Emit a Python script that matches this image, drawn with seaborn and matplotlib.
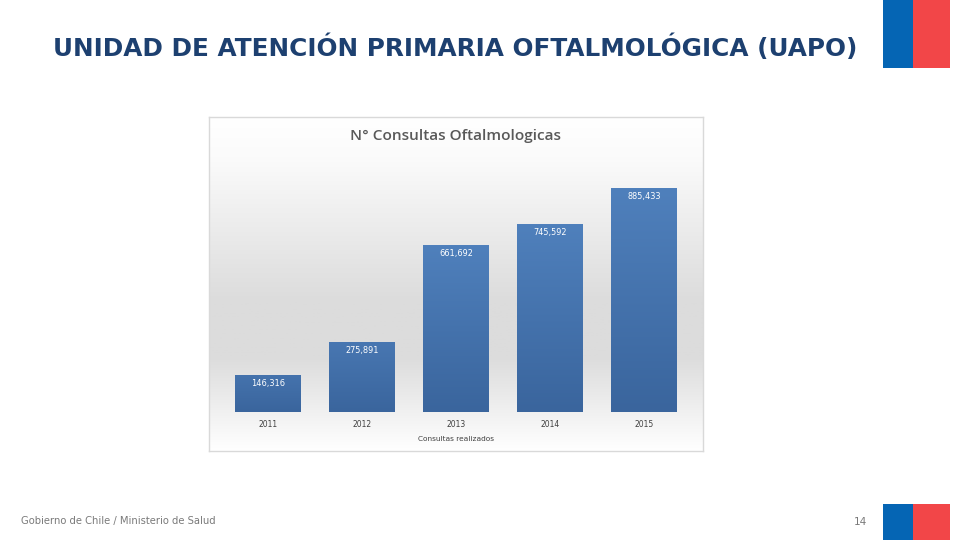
import numpy as np
import pandas as pd
import seaborn as sns
import matplotlib
matplotlib.use('Agg')
import matplotlib.pyplot as plt
from matplotlib.colors import LinearSegmentedColormap
from matplotlib.patches import Rectangle

# data
years = ['2011', '2012', '2013', '2014', '2015']
consultas = [146316, 275891, 661692, 745592, 885433]

slide_title = 'UNIDAD DE ATENCIÓN PRIMARIA OFTALMOLÓGICA (UAPO)'
chart_title = 'N° Consultas Oftalmologicas'
legend_text = 'Consultas realizados'
footer_text = 'Gobierno de Chile / Ministerio de Salud'
page_number = '14'

W, H = 960, 540


def px_rect(x0, y0, x1, y1):
    # pixel box (y from the top) -> figure fraction rect
    return [x0 / W, 1 - y1 / H, (x1 - x0) / W, (y1 - y0) / H]


def px_text(x, y, s, **kw):
    fig.text(x / W, 1 - y / H, s, va='center', **kw)


sns.set_theme(style='white')
plt.rcParams['font.family'] = ['DejaVu Sans']
fig = plt.figure(figsize=(9.6, 5.4), dpi=100, facecolor='white')

# flag blocks, top right and bottom right
for y0, y1 in [(0, 68), (504, 540)]:
    fig.add_artist(Rectangle((883 / W, 1 - y1 / H), 30 / W, (y1 - y0) / H,
                             transform=fig.transFigure, color='#0565b4', lw=0))
    fig.add_artist(Rectangle((913 / W, 1 - y1 / H), 37 / W, (y1 - y0) / H,
                             transform=fig.transFigure, color='#f24648', lw=0))

# chart panel with the grey gradient
panel = fig.add_axes(px_rect(209, 117, 703, 451))
panel_cmap = LinearSegmentedColormap.from_list('panel', [
    (0.0, '#ffffff'), (0.12, '#fbfbfb'), (0.55, '#dcdcdc'),
    (0.72, '#dcdcdc'), (0.88, '#f0f0f0'), (1.0, '#ffffff')])
panel.imshow(np.linspace(0, 1, 256).reshape(-1, 1), cmap=panel_cmap,
             aspect='auto', vmin=0, vmax=1)
panel.set_xticks([])
panel.set_yticks([])
for spine in panel.spines.values():
    spine.set_color('#d9d9d9')
    spine.set_linewidth(1)

# bars, transparent background so the panel shows through
ax = fig.add_axes(px_rect(221, 150, 691, 412))
ax.patch.set_alpha(0)
df = pd.DataFrame({'anio': years, 'consultas': consultas})
sns.barplot(data=df, x='anio', y='consultas', color='#4f81bd', width=0.7,
            saturation=1, linewidth=0, ax=ax)

# vertical gradient on every bar
bar_cmap = LinearSegmentedColormap.from_list('bar', ['#3a659d', '#4f80bc'])
for bar in ax.patches:
    x0, y0, w, h = bar.get_x(), bar.get_y(), bar.get_width(), bar.get_height()
    # short bars stay darker at the top
    top = min(1, 0.35 + h / 885433)
    grad = np.linspace(top, 0, 128).reshape(-1, 1)
    ax.imshow(grad, cmap=bar_cmap, vmin=0, vmax=1, aspect='auto',
              extent=(x0, x0 + w, y0, y0 + h), zorder=2)
ax.set_xlim(-0.5, 4.5)
ax.set_ylim(0, 1040000)

ax.bar_label(ax.containers[0], labels=[f'{v:,}' for v in consultas],
             label_type='edge', padding=-9, color='white', fontsize=5.9,
             zorder=3)

ax.set_xlabel('')
ax.set_ylabel('')
ax.set_yticks([])
ax.tick_params(axis='x', length=0, labelsize=5.5, labelcolor='#404040', pad=6)
sns.despine(ax=ax, left=True, bottom=True)

px_text(456, 135.5, chart_title, ha='center', fontsize=11.1, color='#595959',
        family='Open Sans', fontweight='semibold')
px_text(456, 439, legend_text, ha='center', fontsize=5.3, color='#404040')
px_text(455.5, 48, slide_title, ha='center', fontsize=17.85, color='#1d4070',
        fontweight='bold')
px_text(21, 521, footer_text, ha='left', fontsize=7.2, color='#7a7a7a')
px_text(860, 522, page_number, ha='center', fontsize=7.6, color='#7a7a7a')

fig.savefig('out.png', dpi=100, facecolor='white')
